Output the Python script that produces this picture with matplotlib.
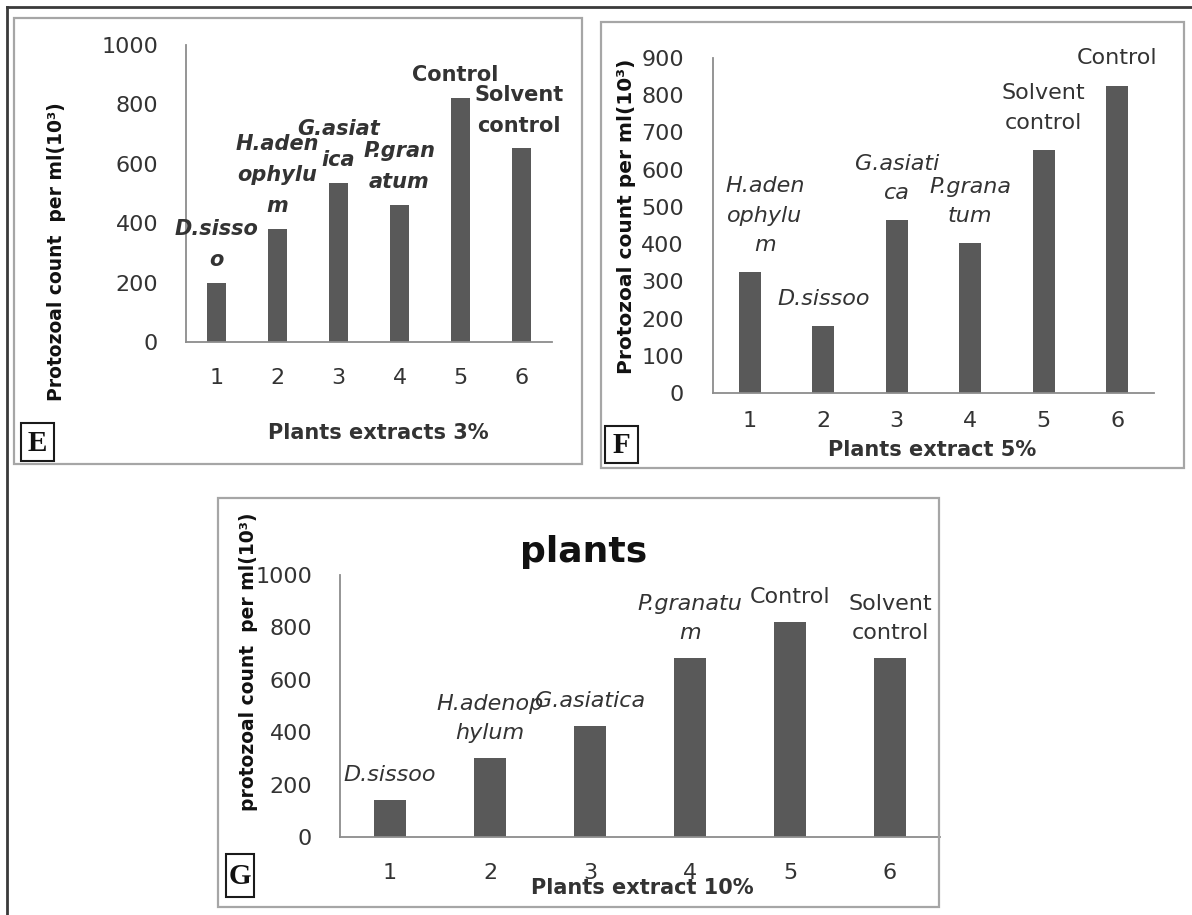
import numpy as np
import matplotlib
matplotlib.use("Agg")
import matplotlib.pyplot as plt
from matplotlib.patches import Rectangle
from matplotlib.lines import Line2D

# ---------------- data ----------------
categories = [1, 2, 3, 4, 5, 6]

e_values = [200, 381, 537, 462, 823, 652]
e_labels = ["D.sisso\no", "H.aden\nophylu\nm", "G.asiat\nica", "P.gran\natum",
            "Control", "Solvent\ncontrol"]

f_values = [325, 180, 464, 403, 653, 826]
f_labels = ["H.aden\nophylu\nm", "D.sissoo", "G.asiati\nca", "P.grana\ntum",
            "Solvent\ncontrol", "Control"]

g_values = [142, 301, 423, 682, 820, 682]
g_labels = ["D.sissoo", "H.adenop\nhylum", "G.asiatica", "P.granatu\nm",
            "Control", "Solvent\ncontrol"]

e_yticks = [0, 200, 400, 600, 800, 1000]
f_yticks = [0, 100, 200, 300, 400, 500, 600, 700, 800, 900]
g_yticks = [0, 200, 400, 600, 800, 1000]

# ---------------- figure ----------------
W, H = 1192, 915
fig = plt.figure(figsize=(W / 100, H / 100), dpi=100)
fig.patch.set_facecolor("white")


def fx(x):
    return x / W


def fy(y):
    return 1 - y / H


def add_ax(l, t, r, b):
    return fig.add_axes([fx(l), fy(b), (r - l) / W, (b - t) / H])


def box(l, t, r, b, color, lw):
    fig.patches.append(Rectangle((fx(l), fy(b)), (r - l) / W, (b - t) / H,
                                 transform=fig.transFigure, fill=False,
                                 edgecolor=color, linewidth=lw))


BAR = "#595959"
TXT = "#333333"


def panel(ax, values, labels, yticks, width, ypad, xpad, lab_size, lab_bold,
          linesp, offset, xoffs):
    x = np.array(categories)
    ax.bar(x, values, width=width, color=BAR, zorder=2)
    ax.set_xlim(0.5, 6.5)
    ax.set_ylim(0, yticks[-1])
    ax.set_yticks(yticks)
    ax.set_xticks(x)
    ax.set_xticklabels([str(c) for c in categories])
    for s in ("top", "right"):
        ax.spines[s].set_visible(False)
    for s in ("left", "bottom"):
        ax.spines[s].set_color("#8c8c8c")
        ax.spines[s].set_linewidth(1.3)
    ax.tick_params(length=0, labelsize=16, labelcolor=TXT)
    ax.tick_params(axis="y", pad=ypad)
    ax.tick_params(axis="x", pad=xpad)
    ax.patch.set_alpha(0)
    for xi, v, lab, dx in zip(x, values, labels, xoffs):
        style = "normal" if "ontrol" in lab else "italic"
        ax.annotate(lab, xy=(xi, v), xytext=(dx, offset),
                    textcoords="offset points", ha="center", va="bottom",
                    fontsize=lab_size, fontstyle=style,
                    fontweight="bold" if lab_bold else "normal",
                    color=TXT, linespacing=linesp, multialignment="center",
                    annotation_clip=False)


# outer border (top and left)
fig.lines.append(Line2D([fx(7), fx(W)], [fy(7), fy(7)], transform=fig.transFigure,
                        color="#3a3a3a", linewidth=2))
fig.lines.append(Line2D([fx(7), fx(7)], [fy(7), fy(H)], transform=fig.transFigure,
                        color="#3a3a3a", linewidth=2))

# panel frames
box(14, 18, 582, 464, "#a6a6a6", 1.6)
box(601, 22, 1184, 468, "#a6a6a6", 1.6)
box(218, 498, 939, 907, "#a6a6a6", 1.6)

# ---------------- panel E ----------------
axE = add_ax(186, 45, 552, 342)
panel(axE, e_values, e_labels, e_yticks, 0.3, 20, 19, 15, True, 1.7, 9,
      [0, 0, 0, 0, -4, -2])
fig.text(fx(57), fy(252), "Protozoal count  per ml(10³)", rotation=90,
         ha="center", va="center", fontsize=13.5, fontweight="bold", color="#111111")
fig.text(fx(378), fy(433), "Plants extracts 3%", ha="center", va="center",
         fontsize=15, fontweight="bold", color=TXT)

# ---------------- panel F ----------------
axF = add_ax(713, 58, 1154, 393)
panel(axF, f_values, f_labels, f_yticks, 0.3, 21, 13, 16, False, 1.57, 12.5,
      [11, 0, 0, 0, 0, 0])
fig.text(fx(626), fy(216), "Protozoal count per ml(10³)", rotation=90,
         ha="center", va="center", fontsize=14.5, fontweight="bold", color="#111111")
fig.text(fx(932), fy(450), "Plants extract 5%", ha="center", va="center",
         fontsize=15, fontweight="bold", color=TXT)

# ---------------- panel G ----------------
axG = add_ax(340, 575, 940, 837)
panel(axG, g_values, g_labels, g_yticks, 0.32, 20, 19, 16, False, 1.55, 11,
      [0, 0, 0, 0, 0, 0])
fig.text(fx(248), fy(662), "protozoal count  per ml(10³)", rotation=90,
         ha="center", va="center", fontsize=13.5, fontweight="bold", color="#111111")
fig.text(fx(642), fy(888), "Plants extract 10%", ha="center", va="center",
         fontsize=15, fontweight="bold", color=TXT)
fig.text(fx(584), fy(552), "plants", ha="center", va="center",
         fontsize=26, fontweight="bold", color="#111111")

# panel letters
for (l, t, r, b, letter) in [(21, 423, 54, 461, "E"), (605, 426, 638, 463, "F"),
                             (226, 854, 254, 897, "G")]:
    box(l, t, r, b, "#1a1a1a", 1.5)
    fig.text(fx((l + r) / 2), fy((t + b) / 2 + 1), letter, ha="center", va="center",
             fontsize=21, fontweight="bold", family="Liberation Serif", color="#111111")

fig.savefig("out.png", dpi=100)
